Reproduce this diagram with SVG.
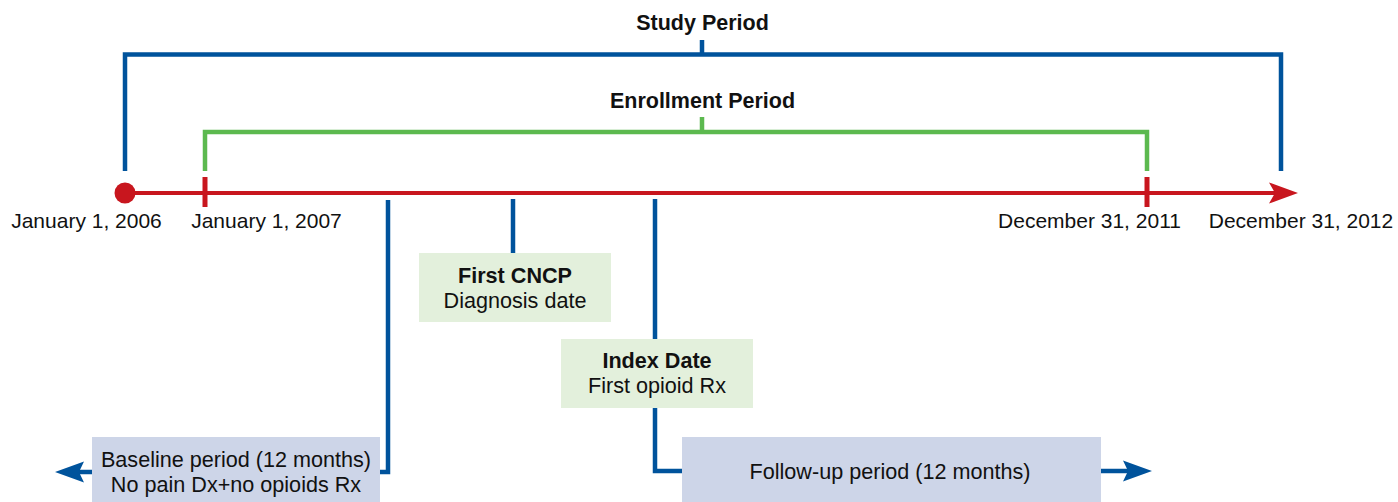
<svg xmlns="http://www.w3.org/2000/svg" width="1398" height="502" viewBox="0 0 1398 502">
<style>
text{font-family:"Liberation Sans",Arial,sans-serif;fill:#111;}
.lbl{font-size:21px;text-anchor:middle;}
.ttl{font-size:21.5px;font-weight:bold;text-anchor:middle;}
.bt{font-size:21.6px;text-anchor:middle;}
.btb{font-size:21.6px;font-weight:bold;text-anchor:middle;}
.blue{stroke:#00539c;stroke-width:4.5;fill:none;}
.green{stroke:#5cb94f;stroke-width:4.5;fill:none;}
.red{stroke:#c8161e;stroke-width:4;fill:none;}
.gbox{fill:#e3f0dc;}
.bbox{fill:#cdd5e8;}
</style>
<g id="connectors">
<path class="blue" d="M125,171 V54.5 H1281 V171 M702,40 V54.5"/>
<path class="green" d="M205,171 V132 H1147 V171 M702,117 V132"/>
<line class="red" x1="125" y1="193" x2="1280" y2="193"/>
<path d="M1298,193 L1269,182.5 L1275,193 L1269,203.5 Z" fill="#c8161e"/>
<circle cx="125" cy="193" r="10.5" fill="#c8161e"/>
<line x1="205" y1="177" x2="205" y2="207" stroke="#c8161e" stroke-width="5"/>
<line x1="1147" y1="177" x2="1147" y2="207" stroke="#c8161e" stroke-width="5"/>
<path class="blue" d="M388,200 V472 H380"/>
<path class="blue" d="M92,472 H75"/>
<path d="M55,472 L84,461.5 L79,472 L84,482.5 Z" fill="#00539c"/>
<path class="blue" d="M513,199 V253"/>
<path class="blue" d="M655,199 V339"/>
<path class="blue" d="M655,408 V471 H682"/>
<path class="blue" d="M1101,471 H1132"/>
<path d="M1152,471 L1123,460.5 L1128,471 L1123,481.5 Z" fill="#00539c"/>
</g>
<g id="study-period"><text class="ttl" x="702.5" y="30">Study Period</text></g>
<g id="enrollment-period"><text class="ttl" x="702.5" y="108">Enrollment Period</text></g>
<g id="date-2006"><text class="lbl" x="86.5" y="228">January 1, 2006</text></g>
<g id="date-2007"><text class="lbl" x="266.5" y="228">January 1, 2007</text></g>
<g id="date-2011"><text class="lbl" x="1089.5" y="228">December 31, 2011</text></g>
<g id="date-2012"><text class="lbl" x="1301" y="228">December 31, 2012</text></g>
<g id="first-cncp">
<rect class="gbox" x="419" y="253" width="192" height="69"/>
<text class="btb" x="515" y="283">First CNCP</text>
<text class="bt" x="515" y="308">Diagnosis date</text>
</g>
<g id="index-date">
<rect class="gbox" x="561" y="339" width="192" height="69"/>
<text class="btb" x="657" y="368">Index Date</text>
<text class="bt" x="657" y="393">First opioid Rx</text>
</g>
<g id="baseline">
<rect class="bbox" x="92" y="437" width="288" height="65"/>
<text class="bt" x="236" y="467">Baseline period (12 months)</text>
<text class="bt" x="236" y="492">No pain Dx+no opioids Rx</text>
</g>
<g id="follow-up">
<rect class="bbox" x="682" y="437" width="419" height="65"/>
<text class="bt" x="890" y="479">Follow-up period (12 months)</text>
</g>
</svg>
